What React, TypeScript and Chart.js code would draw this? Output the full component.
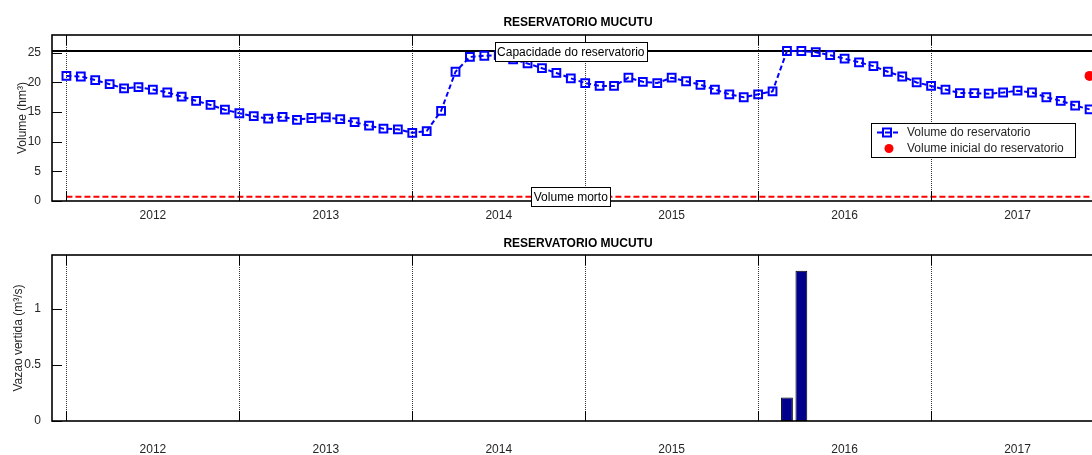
import React, { useEffect, useRef } from 'react';
import { Chart, registerables } from 'chart.js';

Chart.register(...registerables);

const FONT = "'Liberation Sans', Arial, Helvetica, sans-serif";
const TEXT = '#262626';
const BLUE = '#0000ff';
const RED = '#ff0000';

const chartTitle = 'RESERVATORIO MUCUTU';
const years = ['2012', '2013', '2014', '2015', '2016', '2017'];
const xMin = -1;
const xMax = 72;
const volumeTicks = [0, 5, 10, 15, 20, 25];
const volumeMax = 28;
const spillTicks = [0, 0.5, 1];
const spillMax = 1.48;

const volumeLabel = 'Volume do reservatorio';
const initialLabel = 'Volume inicial do reservatorio';
const capacityLabel = 'Capacidade do reservatorio';
const deadLabel = 'Volume morto';
const volumeAxisLabel = 'Volume (hm³)';
const spillAxisLabel = 'Vazao vertida (m³/s)';

const capacity = 25.3;
const deadVolume = 0.7;
const deadStart = 0;
const initialVolume = 21.1;
const initialIndex = 71;
const tagIndex = 35;

// monthly reservoir volume, Jan 2012 .. Dec 2017 (hm³)
const volume = [
  21.1, 21.0, 20.4, 19.7, 19.0, 19.2, 18.8, 18.3, 17.6, 16.9, 16.2, 15.4,
  14.8, 14.3, 13.9, 14.2, 13.7, 14.0, 14.1, 13.8, 13.3, 12.7, 12.2, 12.1,
  11.5, 11.8, 15.2, 21.8, 24.3, 24.5, 24.6, 23.9, 23.2, 22.4, 21.6, 20.7,
  19.9, 19.4, 19.4, 20.8, 20.1, 19.9, 20.8, 20.2, 19.6, 18.8, 18.0, 17.5,
  18.0, 18.5, 25.3, 25.3, 25.1, 24.6, 24.0, 23.4, 22.75, 21.8, 21.0, 20.0,
  19.4, 18.8, 18.2, 18.2, 18.1, 18.3, 18.6, 18.3, 17.5, 16.9, 16.1, 15.45,
];

// monthly spilled flow (m³/s)
const spill = [
  0, 0, 0, 0, 0, 0, 0, 0, 0, 0, 0, 0,
  0, 0, 0, 0, 0, 0, 0, 0, 0, 0, 0, 0,
  0, 0, 0, 0, 0, 0, 0, 0, 0, 0, 0, 0,
  0, 0, 0, 0, 0, 0, 0, 0, 0, 0, 0, 0,
  0, 0, 0.21, 1.34, 0, 0, 0, 0, 0, 0, 0, 0,
  0, 0, 0, 0, 0, 0, 0, 0, 0, 0, 0, 0,
];

const xTickValues = [0, 6, 12, 18, 24, 30, 36, 42, 48, 54, 60, 66];

const yearLabel = (v: number) => {
  const k = (v - 6) / 12;
  return Number.isInteger(k) && years[k] ? years[k] : '';
};

const xScale = (labelPad: number, height: number) => ({
  type: 'linear',
  min: xMin,
  max: xMax,
  offset: false,
  afterBuildTicks: (s: any) => {
    s.ticks = xTickValues.map((v) => ({ value: v }));
  },
  afterFit: (s: any) => {
    s.height = height;
  },
  ticks: {
    autoSkip: false,
    maxRotation: 0,
    minRotation: 0,
    padding: labelPad,
    color: TEXT,
    font: { size: 12, family: FONT },
    callback: (v: any) => yearLabel(Number(v)),
  },
  grid: {
    offset: false,
    drawTicks: false,
    lineWidth: 1,
    color: (c: any) => (c.tick && c.tick.value % 12 === 0 ? '#333' : 'rgba(0,0,0,0)'),
  },
  border: { display: false, dash: [1, 1] },
});

const yScale = (ticks: number[], max: number, title: string, titlePad: number) => ({
  type: 'linear',
  min: 0,
  max,
  afterBuildTicks: (s: any) => {
    s.ticks = ticks.map((v) => ({ value: v }));
  },
  afterFit: (s: any) => {
    s.width = 52;
  },
  ticks: {
    padding: 3,
    color: TEXT,
    font: { size: 12, family: FONT },
    callback: (v: any) => String(v),
  },
  grid: { display: false },
  border: { display: false },
  title: {
    display: true,
    text: title,
    color: TEXT,
    font: { size: 12, family: FONT },
    padding: { top: titlePad, bottom: 0 },
  },
});

const frame = {
  id: 'matlabFrame',
  afterDatasetsDraw(chart: any) {
    const { ctx, chartArea: ca, scales } = chart;
    ctx.save();
    ctx.strokeStyle = '#000';
    ctx.lineWidth = 1;
    ctx.setLineDash([]);
    ctx.beginPath();
    scales.y.ticks.forEach((t: any) => {
      const py = Math.round(scales.y.getPixelForValue(t.value)) + 0.5;
      ctx.moveTo(ca.left, py);
      ctx.lineTo(ca.left + 10, py);
      ctx.moveTo(ca.right, py);
      ctx.lineTo(ca.right - 10, py);
    });
    scales.x.ticks.forEach((t: any) => {
      if (t.value % 12 !== 0) return;
      const px = Math.round(scales.x.getPixelForValue(t.value)) + 0.5;
      ctx.moveTo(px, ca.bottom);
      ctx.lineTo(px, ca.bottom - 10);
      ctx.moveTo(px, ca.top);
      ctx.lineTo(px, ca.top + 10);
    });
    ctx.stroke();
    ctx.lineWidth = 1.6;
    ctx.strokeRect(ca.left, ca.top, ca.right - ca.left, ca.bottom - ca.top);
    ctx.restore();
  },
};

const drawTag = (ctx: CanvasRenderingContext2D, text: string, cx: number, cy: number) => {
  ctx.font = `12px ${FONT}`;
  const w = Math.round(ctx.measureText(text).width + 5);
  const h = 19;
  const x = Math.round(cx - w / 2) + 0.5;
  const y = Math.round(cy - h / 2) + 0.5;
  ctx.fillStyle = '#fff';
  ctx.fillRect(x, y, w, h);
  ctx.strokeStyle = '#000';
  ctx.lineWidth = 1;
  ctx.setLineDash([]);
  ctx.strokeRect(x, y, w, h);
  ctx.fillStyle = '#000';
  ctx.textAlign = 'center';
  ctx.textBaseline = 'middle';
  ctx.fillText(text, cx, y + h / 2 + 0.5);
};

const topOverlay = {
  id: 'topOverlay',
  afterDraw(chart: any) {
    const { ctx, chartArea: ca, scales } = chart;
    ctx.save();
    const tx = scales.x.getPixelForValue(tagIndex);
    drawTag(ctx, capacityLabel, tx, scales.y.getPixelForValue(capacity));
    drawTag(ctx, deadLabel, tx, scales.y.getPixelForValue(deadVolume));

    // legend
    const right = ca.right - 29;
    const left = right - 204;
    const top = ca.top + 88;
    const h = 34;
    ctx.fillStyle = '#fff';
    ctx.fillRect(left, top, right - left, h);
    ctx.strokeStyle = '#000';
    ctx.lineWidth = 1;
    ctx.strokeRect(left + 0.5, top + 0.5, right - left, h);
    const y1 = top + 9.5;
    const y2 = top + 25.5;
    ctx.strokeStyle = BLUE;
    ctx.lineWidth = 2;
    ctx.setLineDash([5, 3]);
    ctx.beginPath();
    ctx.moveTo(left + 6, y1);
    ctx.lineTo(left + 27, y1);
    ctx.stroke();
    ctx.setLineDash([]);
    ctx.lineWidth = 2;
    ctx.strokeRect(left + 16 - 4, y1 - 4, 8, 8);
    ctx.fillStyle = RED;
    ctx.beginPath();
    ctx.arc(left + 18, y2, 4.5, 0, Math.PI * 2);
    ctx.fill();
    ctx.fillStyle = TEXT;
    ctx.font = `12px ${FONT}`;
    ctx.textAlign = 'left';
    ctx.textBaseline = 'middle';
    ctx.fillText(volumeLabel, left + 36, y1);
    ctx.fillText(initialLabel, left + 36, y2);
    ctx.restore();
  },
};

const titleOpts = (padTop: number, padBottom: number) => ({
  display: true,
  text: chartTitle,
  color: '#000',
  fullSize: false,
  font: { size: 12, weight: 'bold', family: FONT },
  padding: { top: padTop, bottom: padBottom },
});

export default function App() {
  const topRef = useRef<HTMLCanvasElement>(null);
  const botRef = useRef<HTMLCanvasElement>(null);

  useEffect(() => {
    document.documentElement.style.overflow = 'hidden';
    document.body.style.overflow = 'hidden';

    const c1 = new Chart(topRef.current as HTMLCanvasElement, {
      type: 'line',
      data: {
        datasets: [
          {
            label: volumeLabel,
            data: volume.map((v, i) => ({ x: i, y: v })),
            borderColor: BLUE,
            borderWidth: 2,
            borderDash: [5, 3],
            tension: 0,
            pointStyle: 'rect',
            pointRadius: 5.5,
            pointBorderWidth: 2,
            pointBorderColor: BLUE,
            pointBackgroundColor: 'rgba(0,0,0,0)',
            fill: false,
          },
          {
            label: initialLabel,
            data: [{ x: initialIndex, y: initialVolume }],
            showLine: false,
            pointStyle: 'circle',
            pointRadius: 5,
            pointBorderWidth: 0,
            pointBackgroundColor: RED,
            borderColor: RED,
            clip: false,
          },
          {
            label: capacityLabel,
            data: [{ x: xMin, y: capacity }, { x: xMax, y: capacity }],
            borderColor: '#000',
            borderWidth: 2,
            pointRadius: 0,
            fill: false,
          },
          {
            label: deadLabel,
            data: [{ x: deadStart, y: deadVolume }, { x: xMax, y: deadVolume }],
            borderColor: RED,
            borderWidth: 2,
            borderDash: [6, 3],
            pointRadius: 0,
            fill: false,
          },
        ],
      },
      options: {
        responsive: false,
        animation: false,
        layout: { padding: 0, autoPadding: false },
        scales: {
          x: xScale(7, 27),
          y: yScale(volumeTicks, volumeMax, volumeAxisLabel, 15),
        } as any,
        plugins: {
          legend: { display: false },
          tooltip: { enabled: false },
          title: titleOpts(15, 5.6) as any,
        },
      },
      plugins: [frame, topOverlay],
    });

    const c2 = new Chart(botRef.current as HTMLCanvasElement, {
      type: 'bar',
      data: {
        datasets: [
          {
            label: spillAxisLabel,
            data: spill.map((v, i) => ({ x: i, y: v })),
            backgroundColor: '#00008b',
            borderColor: '#000',
            borderWidth: 1,
            borderSkipped: false,
            barPercentage: 0.82,
            categoryPercentage: 1,
          },
        ],
      },
      options: {
        responsive: false,
        animation: false,
        layout: { padding: 0, autoPadding: false },
        scales: {
          x: xScale(21, 34),
          y: yScale(spillTicks, spillMax, spillAxisLabel, 11),
        } as any,
        plugins: {
          legend: { display: false },
          tooltip: { enabled: false },
          title: titleOpts(8, 4.6) as any,
        },
      },
      plugins: [frame],
    });

    return () => {
      c1.destroy();
      c2.destroy();
    };
  }, []);

  return (
    <div>
      <div style={{ position: 'absolute', left: 0, top: 0, width: 1104, height: 228 }}>
        <canvas ref={topRef} width={1104} height={228} style={{ display: 'block' }} />
      </div>
      <div style={{ position: 'absolute', left: 0, top: 228, width: 1104, height: 227 }}>
        <canvas ref={botRef} width={1104} height={227} style={{ display: 'block' }} />
      </div>
    </div>
  );
}
